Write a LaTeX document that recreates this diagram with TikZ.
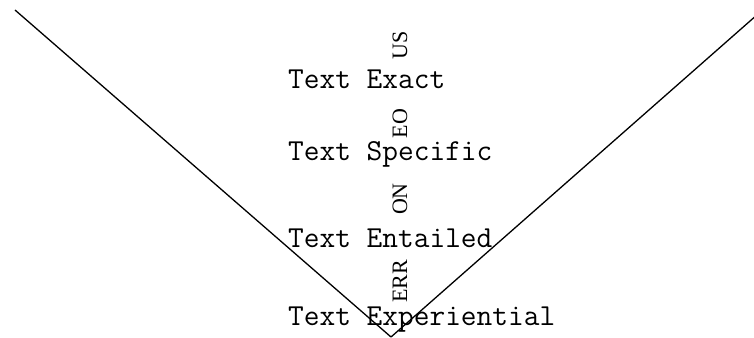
\documentclass[tikz,border=0pt]{standalone}
\usepackage{fontspec}
\newfontfamily\bandfont{Liberation Serif}
\usepackage{tikz}

\begin{document}
\begin{tikzpicture}[x=1pt,y=-1pt,
  level/.style={anchor=base west,inner sep=0pt,font=\fontsize{30.5}{36}\selectfont\ttfamily},
  % the small vertical words sit on the axis of the V, read from bottom to top
  band/.style={rotate=90,inner sep=0pt,font=\fontsize{22}{26}\selectfont\bandfont},
  arm/.style={line width=1.3pt,black,line join=round}]
\useasboundingbox (0,0) rectangle (754,337);

\coordinate (tl)  at (15,10);
\coordinate (tip) at (391,337);
\coordinate (tr)  at (758,14);
\draw[arm] (tl) -- (tip) -- (tr);

\node[level] (exact)        at (288,88)  {Text Exact};
\node[level] (specific)     at (288,160) {Text Specific};
\node[level] (entailed)     at (288,247) {Text Entailed};
\node[level] (experiential) at (288,325) {Text Experiential};

\foreach \n/\y/\t in {us/45/US,eo/123.5/EO,on/199/ON,err/281.5/ERR}
  \node[band] (\n) at (400,\y) {\t};
\end{tikzpicture}
\end{document}
